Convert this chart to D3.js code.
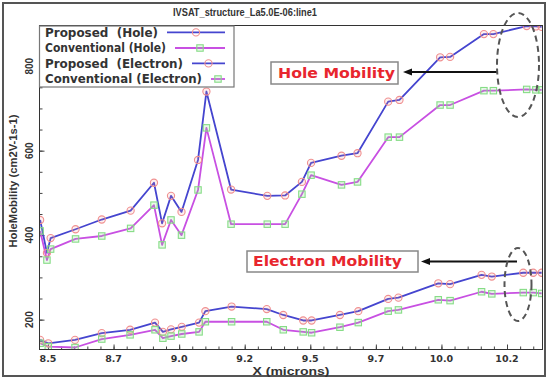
<!DOCTYPE html>
<html><head><meta charset="utf-8">
<script src="https://cdn.jsdelivr.net/npm/d3@7"></script>
<style>body{margin:0;background:#fff} svg{display:block}</style>
</head><body>
<svg id="c" width="549" height="383"></svg>
<script>
// ---- data ----
const chartTitle = "IVSAT_structure_La5.0E-06:line1";
const xTitle = "X (microns)";
const yTitle = "HoleMobility (cm2V-1s-1)";
const seriesNames = ["Proposed  (Hole)", "Conventional (Hole)", "Proposed  (Electron)", "Conventional (Electron)"];
const xTickValues = [8.5, 8.75, 9.0, 9.25, 9.5, 9.75, 10.0, 10.25];
const xTickLabels = ["8.5", "8.7", "9.0", "9.2", "9.5", "9.7", "10.0", "10.2"];
const yTickValues = [200, 400, 600, 800];
const yTickLabels = ["200", "400", "600", "800"];
const annotations = ["Hole Mobility", "Electron Mobility"];

const holeX = [8.47, 8.496, 8.51, 8.605, 8.705, 8.815, 8.904, 8.935, 8.969, 9.009, 9.072, 9.104, 9.198, 9.336, 9.404, 9.468, 9.503, 9.619, 9.680, 9.797, 9.840, 9.995, 10.033, 10.162, 10.198, 10.325, 10.36, 10.382];
const holeProposed = [436, 358, 393, 414, 437, 458, 524, 428, 493, 455, 578, 740, 508, 493, 494, 526, 571, 588, 594, 716, 720, 821, 822, 876, 876, 895, 894, 893];
const holeConventional = [410, 341, 367, 391, 398, 416, 471, 377, 436, 400, 507, 654, 426, 426, 426, 497, 542, 519, 526, 632, 632, 708, 708, 742, 742, 745, 744, 744];

const electronX = [8.47, 8.501, 8.603, 8.705, 8.813, 8.908, 8.938, 8.969, 9.01, 9.076, 9.1, 9.2, 9.334, 9.397, 9.473, 9.505, 9.613, 9.683, 9.797, 9.836, 9.988, 10.033, 10.153, 10.192, 10.312, 10.35, 10.382];
const electronProposed = [152, 144, 152, 168, 176, 193, 171, 177, 183, 193, 220, 231, 225, 211, 198, 198, 211, 220, 249, 252, 286, 284, 306, 302, 311, 311, 311];
const electronConventional = [144, 136, 134, 154, 164, 176, 156, 161, 166, 171, 195, 195, 195, 176, 171, 169, 182, 193, 220, 223, 247, 245, 266, 261, 264, 264, 262];

// ---- layout ----
const svg = d3.select("#c");
const L = 39.5, R = 542.5, T = 25.5, B = 349.5;
const x = d3.scaleLinear().domain([8.4676, 10.3853]).range([L, R]);
const y = d3.scaleLinear().domain([129.3, 896.3]).range([B, T]);
const BLUE = "#4545cf", MAG = "#c850e2", RED_M = "#f09090", GRN_M = "#86dc86";
const FONT = "'Liberation Sans', Arial, sans-serif";
const DFONT = "'DejaVu Sans', Verdana, sans-serif";

svg.append("rect").attr("x", 0).attr("y", 0).attr("width", 549).attr("height", 383).attr("fill", "#fff");
svg.append("rect").attr("x", 3).attr("y", 3).attr("width", 542).attr("height", 373)
  .attr("fill", "#fff").attr("stroke", "#555").attr("stroke-width", 2);

svg.append("defs").append("clipPath").attr("id", "clip")
  .append("rect").attr("x", L).attr("y", T).attr("width", R - L).attr("height", B - T);

// title
svg.append("text").attr("x", 245).attr("y", 16).attr("text-anchor", "middle")
  .attr("font-family", FONT).attr("font-weight", "bold").attr("font-size", 10.5)
  .attr("fill", "#333").attr("textLength", 144).attr("lengthAdjust", "spacingAndGlyphs").text(chartTitle);

// axes ticks (inward)
const gx = svg.append("g").attr("transform", `translate(0,${B})`);
gx.call(d3.axisBottom(x).tickValues(d3.range(8.5, 10.38, 0.05)).tickSize(-3).tickFormat(""));
gx.call(g => g.select(".domain").remove());
const gx2 = svg.append("g").attr("transform", `translate(0,${B})`);
gx2.call(d3.axisBottom(x).tickValues(xTickValues).tickSize(-5).tickFormat(""));
gx2.call(g => g.select(".domain").remove());
svg.selectAll(".tick line").attr("stroke", "#444");

const gy = svg.append("g").attr("transform", `translate(${L},0)`);
gy.call(d3.axisLeft(y).tickValues(d3.range(150, 890, 50)).tickSize(-3).tickFormat(""));
gy.call(g => g.select(".domain").remove());
const gy2 = svg.append("g").attr("transform", `translate(${L},0)`);
gy2.call(d3.axisLeft(y).tickValues(yTickValues).tickSize(-5).tickFormat(""));
gy2.call(g => g.select(".domain").remove());
svg.selectAll(".tick line").attr("stroke", "#444");

// tick labels
svg.append("g").selectAll("text").data(xTickValues).join("text")
  .attr("x", d => x(d)).attr("y", 361.5).attr("text-anchor", "middle")
  .attr("font-family", DFONT).attr("font-weight", "bold").attr("font-size", 9.5).attr("fill", "#333")
  .text((d, i) => xTickLabels[i]);
svg.append("g").selectAll("text").data(yTickValues).join("text")
  .attr("transform", d => `translate(32.5,${y(d)}) rotate(-90)`).attr("text-anchor", "middle")
  .attr("font-family", FONT).attr("font-weight", "bold").attr("font-size", 10).attr("fill", "#333")
  .text((d, i) => yTickLabels[i]);

// axis titles
svg.append("text").attr("x", 291).attr("y", 374.5).attr("text-anchor", "middle")
  .attr("font-family", FONT).attr("font-weight", "bold").attr("font-size", 11).attr("fill", "#333")
  .attr("textLength", 77).attr("lengthAdjust", "spacingAndGlyphs").text(xTitle);
svg.append("text").attr("transform", "translate(17,181) rotate(-90)").attr("text-anchor", "middle")
  .attr("font-family", FONT).attr("font-weight", "bold").attr("font-size", 10).attr("fill", "#333")
  .attr("textLength", 133).attr("lengthAdjust", "spacingAndGlyphs").text(yTitle);

// series
const series = [
  { xs: holeX, ys: holeProposed, color: BLUE, marker: "circle" },
  { xs: holeX, ys: holeConventional, color: MAG, marker: "square" },
  { xs: electronX, ys: electronProposed, color: BLUE, marker: "circle" },
  { xs: electronX, ys: electronConventional, color: MAG, marker: "square" }
];
const plot = svg.append("g").attr("clip-path", "url(#clip)");
const line = d3.line().x(d => x(d[0])).y(d => y(d[1]));
series.forEach(s => {
  const pts = s.xs.map((v, i) => [v, s.ys[i]]);
  plot.append("path").datum(pts).attr("d", line).attr("fill", "none")
    .attr("stroke", s.color).attr("stroke-width", 1.8).attr("stroke-linejoin", "round");
});
series.forEach(s => {
  const pts = s.xs.map((v, i) => [v, s.ys[i]]);
  if (s.marker === "circle") {
    plot.append("g").selectAll("circle").data(pts).join("circle")
      .attr("cx", d => x(d[0])).attr("cy", d => y(d[1])).attr("r", 3.6)
      .attr("fill", "rgba(240,150,150,0.15)").attr("stroke", RED_M).attr("stroke-width", 1.1);
  } else {
    plot.append("g").selectAll("rect").data(pts).join("rect")
      .attr("x", d => x(d[0]) - 3.2).attr("y", d => y(d[1]) - 3.2).attr("width", 6.4).attr("height", 6.4)
      .attr("fill", "rgba(140,225,140,0.2)").attr("stroke", GRN_M).attr("stroke-width", 1.1);
  }
});

// plot frame
svg.append("rect").attr("x", L).attr("y", T).attr("width", R - L).attr("height", B - T)
  .attr("fill", "none").attr("stroke", "#333").attr("stroke-width", 1);

// legend
const lg = svg.append("g");
lg.append("rect").attr("x", 39.5).attr("y", 26).attr("width", 194.5).attr("height", 61)
  .attr("fill", "#fff").attr("stroke", "#777").attr("stroke-width", 1.2);
const legBase = [36.7, 52.3, 67.7, 83.3];
const legLen = [113, 121, 138, 157];
const legCol = [BLUE, MAG, BLUE, MAG];
const legMark = ["circle", "square", "circle", "square"];
seriesNames.forEach((n, i) => {
  lg.append("text").attr("x", 45).attr("y", legBase[i]).style("white-space", "pre")
    .attr("font-family", DFONT).attr("font-weight", "bold").attr("font-size", 11.5).attr("fill", "#333")
    .attr("textLength", legLen[i]).attr("lengthAdjust", "spacingAndGlyphs").text(n);
  const x0 = 45 + legLen[i] + 9, x1 = 225, yc = legBase[i] - 4.3, xm = (x0 + x1) / 2;
  lg.append("line").attr("x1", x0).attr("x2", x1).attr("y1", yc).attr("y2", yc)
    .attr("stroke", legCol[i]).attr("stroke-width", 1.8);
  if (legMark[i] === "circle") {
    lg.append("circle").attr("cx", xm).attr("cy", yc).attr("r", 3.6)
      .attr("fill", "none").attr("stroke", RED_M).attr("stroke-width", 1.1);
  } else {
    lg.append("rect").attr("x", xm - 3.2).attr("y", yc - 3.2).attr("width", 6.4).attr("height", 6.4)
      .attr("fill", "rgba(140,225,140,0.2)").attr("stroke", GRN_M).attr("stroke-width", 1.1);
  }
});

// annotations
const defs = svg.select("defs");
defs.append("marker").attr("id", "ah").attr("viewBox", "0 0 10 8").attr("refX", 0).attr("refY", 4)
  .attr("markerWidth", 10).attr("markerHeight", 8).attr("markerUnits", "userSpaceOnUse").attr("orient", "auto")
  .append("path").attr("d", "M10,0 L0,4 L10,8 Z").attr("fill", "#111");

function annot(bx, by, bw, bh, tx, ty, tl, label, ax1, ax0, ay, ex, ey, erx, ery) {
  svg.append("rect").attr("x", bx).attr("y", by).attr("width", bw).attr("height", bh)
    .attr("fill", "#fff").attr("stroke", "#888").attr("stroke-width", 1.5);
  svg.append("text").attr("x", tx).attr("y", ty)
    .attr("font-family", DFONT).attr("font-weight", "bold").attr("font-size", 14).attr("fill", "#e8262e")
    .attr("textLength", tl).attr("lengthAdjust", "spacingAndGlyphs").text(label);
  svg.append("line").attr("x1", ax1).attr("x2", ax0 + 8).attr("y1", ay).attr("y2", ay)
    .attr("stroke", "#111").attr("stroke-width", 2);
  svg.append("path").attr("d", `M${ax0},${ay} L${ax0 + 9},${ay - 3.5} L${ax0 + 9},${ay + 3.5} Z`).attr("fill", "#111");
  svg.append("ellipse").attr("cx", ex).attr("cy", ey).attr("rx", erx).attr("ry", ery)
    .attr("fill", "none").attr("stroke", "#555").attr("stroke-width", 2).attr("stroke-dasharray", "6,4");
}
annot(271, 62, 127, 22, 278, 78.3, 117, annotations[0], 497, 403, 72, 518, 65, 21, 52);
annot(247, 251, 171, 21, 253, 266.3, 149, annotations[1], 517, 421, 261.5, 518, 284.5, 13.5, 36.5);
</script>
</body></html>
